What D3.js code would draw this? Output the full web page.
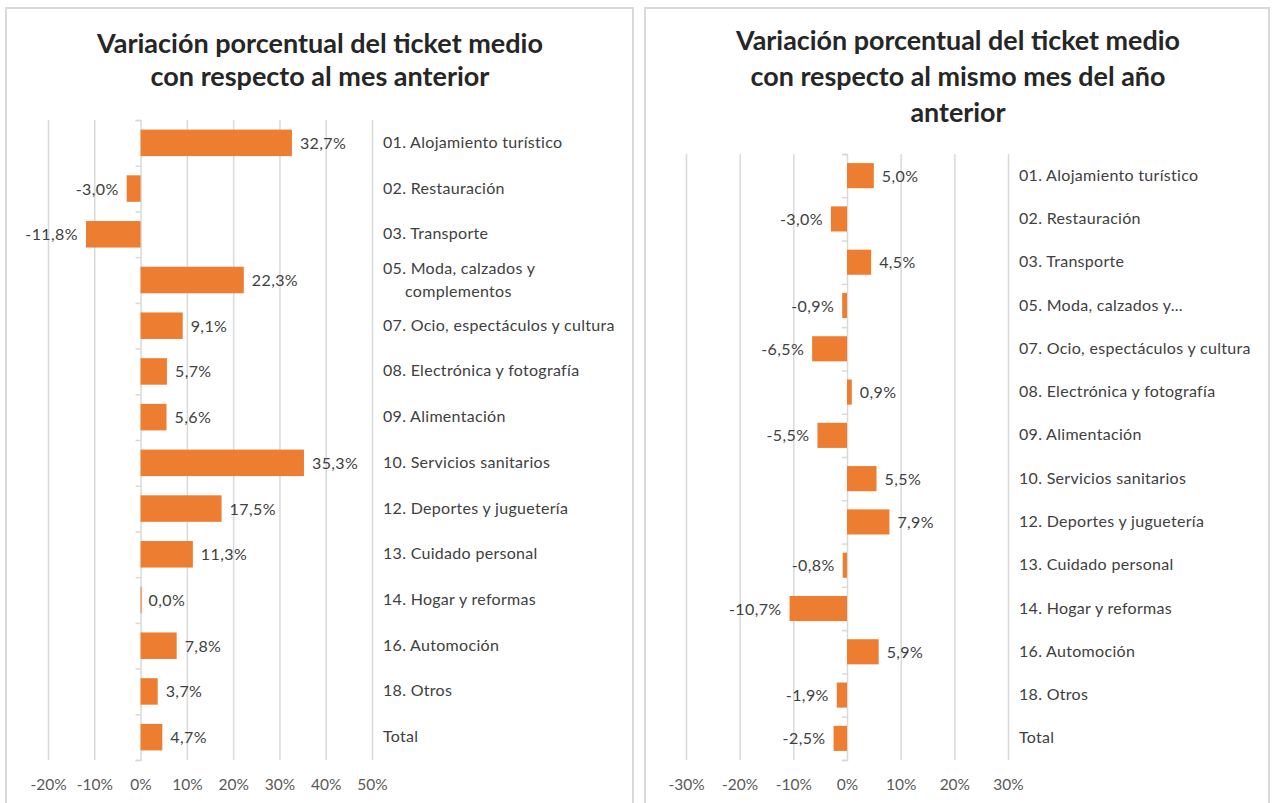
<!DOCTYPE html>
<html>
<head>
<meta charset="utf-8">
<script src="https://cdn.jsdelivr.net/npm/d3@7"></script>
<style>
  body { margin: 0; background: #fff; }
  svg { display: block; font-family: Lato, "Open Sans", sans-serif; }
</style>
</head>
<body>
<svg id="chart" width="1272" height="803"></svg>
<script>
// categories (left chart shows full names, right chart truncates Moda)
let categories = ["01. Alojamiento turístico", "02. Restauración", "03. Transporte",
  "05. Moda, calzados y|complementos", "07. Ocio, espectáculos y cultura",
  "08. Electrónica y fotografía", "09. Alimentación", "10. Servicios sanitarios",
  "12. Deportes y juguetería", "13. Cuidado personal", "14. Hogar y reformas",
  "16. Automoción", "18. Otros", "Total"]
let categoriesShort = ["01. Alojamiento turístico", "02. Restauración", "03. Transporte",
  "05. Moda, calzados y...", "07. Ocio, espectáculos y cultura",
  "08. Electrónica y fotografía", "09. Alimentación", "10. Servicios sanitarios",
  "12. Deportes y juguetería", "13. Cuidado personal", "14. Hogar y reformas",
  "16. Automoción", "18. Otros", "Total"]
// variation vs previous month (%)
let monthValues = [32.7, -3.0, -11.8, 22.3, 9.1, 5.7, 5.6, 35.3, 17.5, 11.3, 0.0, 7.8, 3.7, 4.7]
// variation vs same month previous year (%)
let yearValues = [5.0, -3.0, 4.5, -0.9, -6.5, 0.9, -5.5, 5.5, 7.9, -0.8, -10.7, 5.9, -1.9, -2.5]
let monthTicks = [-20, -10, 0, 10, 20, 30, 40, 50]
let yearTicks = [-30, -20, -10, 0, 10, 20, 30]
let monthTitle = ["Variación porcentual del ticket medio", "con respecto al mes anterior"]
let yearTitle = ["Variación porcentual del ticket medio", "con respecto al mismo mes del año", "anterior"]

const orange = "#ED7D31"
const grid = "#d9d9d9"
const textCol = "#404040"
const svg = d3.select("#chart")

let fmt = v => v.toFixed(1).replace(".", ",") + "%"

let drawPanel = (opt) => {
  let g = svg.append("g")
  // panel frame
  g.append("rect")
    .attr("x", opt.frame[0]).attr("y", opt.frame[1])
    .attr("width", opt.frame[2]).attr("height", opt.frame[3])
    .attr("fill", "#fff").attr("stroke", grid).attr("stroke-width", 2)

  // title, fitted to the target width
  opt.title.forEach((line, i) => {
    let t = g.append("text")
      .attr("x", opt.titleX).attr("y", opt.titleY + i * opt.titleGap)
      .attr("text-anchor", "middle")
      .attr("font-weight", "bold")
      .attr("font-size", 24)
      .attr("fill", "#262626")
      .text(line)
    if (i == 0) {
      let w = t.node().getComputedTextLength()
      opt.titleSize = 24 * opt.titleWidth / w
    }
    t.attr("font-size", opt.titleSize)
  })

  let x = d3.scaleLinear().domain(opt.domain).range(opt.xRange)
  let y = d3.scaleBand().domain(d3.range(opt.values.length))
    .range(opt.yRange).paddingInner(0.42).paddingOuter(0.21)

  // vertical grid lines + tick labels
  let xAxis = d3.axisBottom(x)
    .tickValues(opt.ticks)
    .tickSize(-(opt.yRange[1] - opt.yRange[0]))
    .tickFormat(d => d + "%")
  let ax = g.append("g")
    .attr("transform", `translate(0,${opt.yRange[1]})`)
    .call(xAxis)
  ax.select(".domain").remove()
  ax.selectAll(".tick line").attr("stroke", grid).attr("stroke-width", 1.5)
    .filter(d => d == 0).remove()
  ax.selectAll(".tick text")
    .attr("dy", 0).attr("y", 30)
    .attr("font-size", 15.5).attr("fill", "#595959")
    .attr("font-family", "Lato, sans-serif")

  // category axis at zero with ticks between bands
  let idx = d3.scaleLinear().domain([0, opt.values.length]).range(opt.yRange)
  let yAxis = d3.axisLeft(idx).ticks(opt.values.length).tickSize(5).tickFormat("")
  let ay = g.append("g")
    .attr("transform", `translate(${x(0)},0)`)
    .call(yAxis)
  ay.select(".domain").attr("stroke", grid).attr("stroke-width", 1.5)
  ay.selectAll(".tick line").attr("stroke", grid).attr("stroke-width", 1.5)

  // bars
  g.selectAll(".bar").data(opt.values).enter().append("rect")
    .attr("class", "bar")
    .attr("x", d => x(Math.min(0, d)))
    .attr("width", d => Math.max(1, Math.abs(x(d) - x(0))))
    .attr("y", (d, i) => y(i))
    .attr("height", y.bandwidth())
    .attr("fill", orange)

  // value labels
  g.selectAll(".val").data(opt.values).enter().append("text")
    .attr("class", "val")
    .attr("x", d => d < 0 ? x(d) - 8 : x(d) + 8)
    .attr("y", (d, i) => y(i) + y.bandwidth() / 2 + 6)
    .attr("text-anchor", d => d < 0 ? "end" : "start")
    .attr("font-size", 16).attr("letter-spacing", 0.4).attr("fill", textCol)
    .text(fmt)

  // category labels
  opt.labels.forEach((lab, i) => {
    let cy = y(i) + y.bandwidth() / 2
    let parts = lab.split("|")
    parts.forEach((p, j) => {
      g.append("text")
        .attr("x", opt.labelX + (j > 0 ? 22 : 0))
        .attr("y", cy + 5 + (j - (parts.length - 1) / 2) * 23)
        .attr("font-size", 16).attr("letter-spacing", 0.3).attr("fill", textCol)
        .text(p)
    })
  })
}

drawPanel({
  frame: [6, 8, 627, 810],
  title: monthTitle, titleX: 320, titleY: 53, titleGap: 33, titleWidth: 446,
  domain: [-20, 50], xRange: [48, 372], yRange: [120, 760],
  ticks: monthTicks, values: monthValues, labels: categories, labelX: 383
})

drawPanel({
  frame: [645, 8, 624, 810],
  title: yearTitle, titleX: 958, titleY: 50, titleGap: 36, titleWidth: 444,
  domain: [-30, 30], xRange: [686, 1008], yRange: [154, 760],
  ticks: yearTicks, values: yearValues, labels: categoriesShort, labelX: 1019
})
</script>
</body>
</html>
